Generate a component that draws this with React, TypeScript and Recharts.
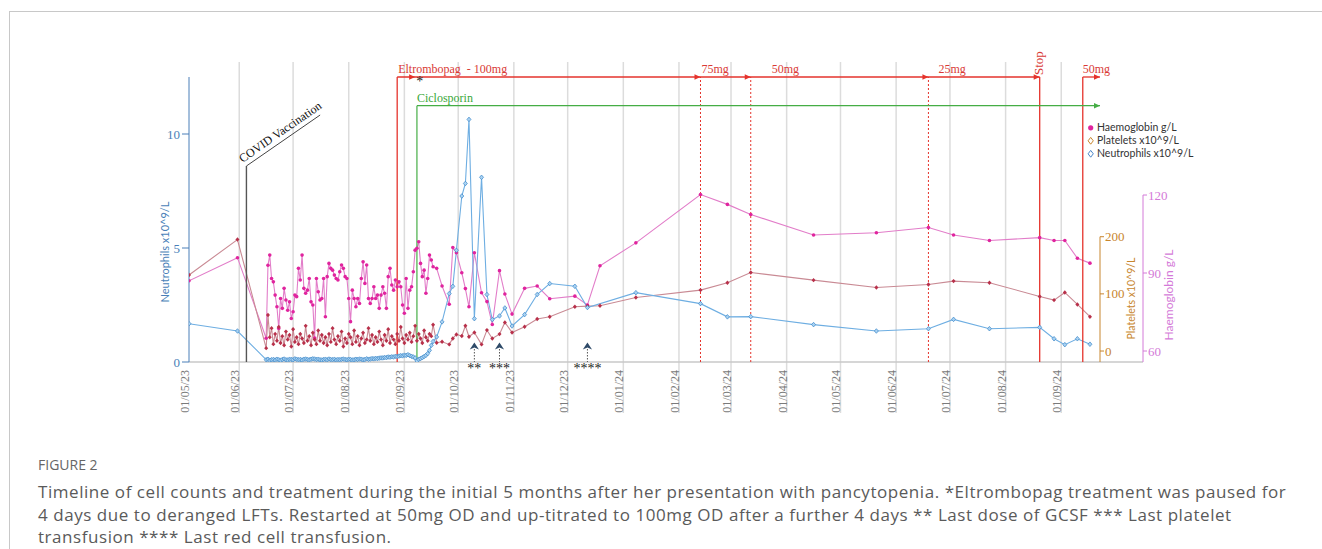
import React from 'react';
import { ComposedChart, Line, XAxis, YAxis, ReferenceLine, ReferenceDot } from 'recharts';

// x values are days counted from 01/05/2023
const tickLabels = ['01/05/23','01/06/23','01/07/23','01/08/23','01/09/23','01/10/23','01/11/23','01/12/23','01/01/24','01/02/24','01/03/24','01/04/24','01/05/24','01/06/24','01/07/24','01/08/24','01/09/24'];
const tickDays = [0, 31, 61, 92, 123, 153, 184, 214, 245, 276, 305, 336, 366, 397, 427, 458, 489];

const earlyDays = [3, 30];
const earlyHb = [87, 95.9];
const earlyPlt = [133, 195];
const earlyNeut = [1.68, 1.36];

// daily samples from day 46 to day 139
const denseStartDay = 46;
const denseHb = [64.9, 93, 96.9, 87.9, 86.6, 81.5, 77, 68.7, 80.2, 76.4,
  84.1, 79.6, 75.7, 78.9, 72.5, 75.1, 81.5, 80.9, 91.8, 87.3,
  96.9, 84.1, 82.2, 83.4, 87.9, 78.9, 77.7, 65, 87.9, 82.8,
  79.6, 80.2, 87.9, 73.2, 88.6, 93.7, 91.8, 91.1, 89.2, 87.9,
  87.3, 90.5, 93.1, 91.8, 88.6, 87.9, 80.2, 71.3, 83.4, 80.2,
  77, 80.2, 78.3, 87.9, 94.3, 86, 93.1, 80.2, 78.3, 80.2,
  84.7, 80.2, 81.5, 76.4, 81.5, 84.7, 82.2, 76.4, 88.6, 91.8,
  85.4, 83.4, 87.3, 84.7, 86.6, 84.7, 77.7, 74.5, 87.9, 76.4,
  83.4, 84.7, 90.5, 98.8, 99.5, 102, 93.7, 88.6, 91.1, 82.2,
  87.9, 96.9, 95, 92.4];
const densePlt = [5, 63, 24, 40, 12, 30, 18, 42, 14, 26,
  10, 34, 20, 28, 8, 38, 16, 24, 12, 30,
  22, 14, 44, 18, 26, 10, 32, 20, 12, 36,
  18, 28, 14, 24, 10, 30, 16, 40, 20, 12,
  26, 18, 34, 8, 22, 14, 30, 24, 12, 36,
  16, 26, 10, 22, 32, 14, 20, 40, 18, 28,
  12, 24, 16, 34, 20, 10, 28, 18, 38, 14,
  26, 20, 12, 30, 18, 42, 22, 14, 28, 20,
  32, 16, 26, 44, 18, 30, 22, 14, 36, 24,
  18, 30, 26, 46];
const denseNeut = [0.10, 0.12, 0.08, 0.10, 0.11, 0.09, 0.12, 0.10, 0.08, 0.11,
  0.13, 0.10, 0.09, 0.12, 0.11, 0.10, 0.14, 0.12, 0.10, 0.11,
  0.09, 0.12, 0.13, 0.11, 0.10, 0.12, 0.14, 0.13, 0.11, 0.12,
  0.10, 0.09, 0.11, 0.12, 0.10, 0.13, 0.11, 0.10, 0.12, 0.09,
  0.11, 0.10, 0.12, 0.13, 0.11, 0.10, 0.12, 0.11, 0.09, 0.10,
  0.12, 0.11, 0.13, 0.12, 0.10, 0.11, 0.14, 0.12, 0.13, 0.15,
  0.14, 0.16, 0.15, 0.17, 0.18,
  0.18, 0.20, 0.19, 0.22, 0.21, 0.23, 0.22, 0.25, 0.24, 0.26, 0.28, 0.27, 0.30, 0.29, 0.32, 0.28, 0.25,
  0.22, 0.18, 0.05, 0.12, 0.15, 0.19, 0.24, 0.29, 0.37, 0.51, 0.73, 0.9];

const laterDays = [141, 144, 148, 150, 152, 155, 157, 159, 162, 166, 169, 172, 176, 179, 183, 190, 197, 204, 218, 225, 232, 252, 288, 303, 316, 351, 386, 415, 429, 449, 477, 485, 491, 498, 505];
const laterHb = [91.8, 85, 78, 99.8, 97.8, 90.1, 84, 77, 97.8, 82.4, 79, 70.2, 90.9, 81.9, 74.2, 84.1, 85, 80.1, 81.1, 77.7, 92.8, 101.6, 120.2, 116.4, 112.5, 104.6, 105.5, 107.5, 104.6, 102.5, 103.6, 102.5, 102.5, 95.7, 93.8];
const laterPlt = [14.5, 16.2, 11.6, 22, 29, 26.2, 44.2, 25, 32.5, 11.6, 36.6, 22, 29.6, 50, 32.5, 42.5, 55.9, 60, 77.4, 78.6, 79.2, 93.7, 106.6, 119.4, 137.4, 124, 111.2, 116.5, 122.3, 119.4, 95.5, 89.1, 102.5, 81.5, 60];
const laterNeut = [1.1, 1.76, 3.0, 3.32, 4.9, 7.28, 7.83, 10.64, 1.9, 8.1, 2.96, 1.86, 2.02, 2.37, 1.58, 2.08, 2.96, 3.44, 3.32, 2.39, null, 3.04, 2.56, 1.98, 1.99, 1.64, 1.36, 1.46, 1.87, 1.46, 1.52, 1.02, 0.76, 1.02, 0.78];

// treatment events (days)
const covidDay = 35;
const eltStartDay = 119;
const eltRestartDay = 129;
const ciclosporinDay = 130;
const doseChangeDays = [288, 316, 415];
const doseChangeLabels = ['75mg', '50mg', '25mg'];
const eltStopDay = 477;
const eltResumeDay = 501;
const eltResumeLabel = '50mg';
const markerDays = [162, 176, 225];
const markerLabels = ['**', '***', '****'];

const caption = [
  'Timeline of cell counts and treatment during the initial 5 months after her presentation with pancytopenia. *Eltrombopag treatment was paused for',
  '4 days due to deranged LFTs. Restarted at 50mg OD and up-titrated to 100mg OD after a further 4 days ** Last dose of GCSF *** Last platelet',
  'transfusion **** Last red cell transfusion.',
];

// layout
const X_MIN = 3;
const X_MAX = 510.6;
const PLOT_W = 911;
const DAY_PER_PX = (X_MAX - X_MIN) / PLOT_W;
const HB_AXIS_DAY = X_MAX + 43 * DAY_PER_PX;
const N_DOMAIN: [number, number] = [0, 12.5];
const P_DOMAIN: [number, number] = [-19.2, 479.4];
const H_DOMAIN: [number, number] = [55.77, 165.4];
const N_PX = 285 / 12.5;
const yN = (px: number) => px / N_PX; // pixel height above baseline -> neutrophil units

const N_ID = 'axisN';
const P_ID = 'axisA_plt';
const H_ID = 'axisB_hb';

const RED = '#e5332c';
const GREEN = '#45ad45';
const BLUE_AX = '#4a7fb8';
const ORANGE = '#c8862e';
const PINK_AX = '#d47ad8';
const SERIF = '"Liberation Serif", "DejaVu Serif", serif';
const SANS = 'Lato, "Open Sans", sans-serif';

const rows: any[] = [];
earlyDays.forEach((d, i) => rows.push({ day: d, hb: earlyHb[i], plt: earlyPlt[i], neut: earlyNeut[i] }));
denseHb.forEach((v, i) => rows.push({ day: denseStartDay + i, hb: v, plt: densePlt[i], neut: denseNeut[i] }));
laterDays.forEach((d, i) => rows.push({ day: d, hb: laterHb[i], plt: laterPlt[i], neut: laterNeut[i] }));

const ticks = tickDays.map((d) => Math.max(d, X_MIN));
const labelFor = (v: number) => tickLabels[ticks.indexOf(v)] || '';

const DateTick = (props: any) => {
  const { x, y, payload } = props;
  return (
    <text x={x} y={y} transform={`rotate(-90 ${x} ${y})`} textAnchor="end" fill="#7a7a7a" fontSize={12} fontFamily={SERIF}>
      {labelFor(payload.value)}
    </text>
  );
};

const HbDot = (p: any) =>
  p.cy == null ? null : <circle key={`h${p.index}`} cx={p.cx} cy={p.cy} r={1.8} fill="#e0249e" />;
const PltDot = (p: any) =>
  p.cy == null ? null : (
    <polygon key={`p${p.index}`} points={`${p.cx},${p.cy - 2.2} ${p.cx + 2},${p.cy} ${p.cx},${p.cy + 2.2} ${p.cx - 2},${p.cy}`} fill="#b8304a" />
  );
const NeutDot = (p: any) =>
  p.cy == null ? null : (
    <polygon key={`n${p.index}`} points={`${p.cx},${p.cy - 2.3} ${p.cx + 2},${p.cy} ${p.cx},${p.cy + 2.3} ${p.cx - 2},${p.cy}`} fill="#a9d2f2" stroke="#3b86c9" strokeWidth={0.7} />
  );

const AxisTitle = (props: any) => {
  const { viewBox, text, color, size, dx, dyFromBottom } = props;
  if (!viewBox) return null;
  const cx = viewBox.x + dx;
  const cy = viewBox.y + viewBox.height - dyFromBottom;
  return (
    <text x={cx} y={cy} transform={`rotate(-90 ${cx} ${cy})`} textAnchor="middle" dominantBaseline="central" fill={color} fontSize={size} fontFamily={SANS}>
      {text}
    </text>
  );
};

const arrowShape = (color: string) => (p: any) => (
  <polygon points={`${p.cx - 6},${p.cy - 2.8} ${p.cx},${p.cy} ${p.cx - 6},${p.cy + 2.8}`} fill={color} />
);

const textShape = (txt: string, o: any) => (p: any) => {
  const x = p.cx + (o.dx || 0);
  const y = p.cy + (o.dy || 0);
  return (
    <text x={x} y={y} transform={o.rot ? `rotate(${o.rot} ${x} ${y})` : undefined} fill={o.color || '#000'} fontSize={o.size || 12}
      fontFamily={o.font || SERIF} textAnchor={o.anchor || 'start'} style={{ whiteSpace: 'pre' }}>
      {txt}
    </text>
  );
};

const markerShape = (txt: string) => (p: any) => {
  const { cx, cy } = p;
  return (
    <g>
      <line x1={cx} y1={cy - 13} x2={cx} y2={cy} stroke="#555" strokeWidth={1} strokeDasharray="1.5 1.5" />
      <polygon points={`${cx},${cy - 19.5} ${cx + 4.6},${cy - 12.6} ${cx},${cy - 14.4} ${cx - 4.6},${cy - 12.6}`} fill="#2e4a68" />
      <text x={cx} y={cy + 10.5} textAnchor="middle" fontSize={14} fontFamily={SERIF} fill="#222">{txt}</text>
    </g>
  );
};

const LINE_TOP = 12.5;
const CICLO_Y = yN(362 - 105.7);
const COVID_TOP = yN(362 - 166);
const COVID_END_DAY = covidDay + 73.7 * DAY_PER_PX;
const COVID_END_Y = yN(362 - 115);
const GRID_TOP = yN(362 - 62);
const GRID_BOTTOM = -yN(413 - 362);

export default function App() {
  return (
    <div style={{ position: 'absolute', left: 0, top: 0, width: 1322, height: 549, background: '#fff', overflow: 'hidden' }}>
      <div style={{ position: 'absolute', left: 9, top: 11, width: 1400, height: 600, borderLeft: '1px solid #c8c8c8', borderTop: '1px solid #c8c8c8' }} />
      <div style={{ position: 'absolute', left: 0, top: 0 }}>
        <ComposedChart width={1322} height={420} data={rows} margin={{ top: 77, right: 119, bottom: 0, left: 0 }}>
          <XAxis xAxisId={0} dataKey="day" type="number" domain={[X_MIN, X_MAX]} allowDataOverflow ticks={ticks} interval={0}
            tick={<DateTick />} axisLine={false} tickLine={false} height={58} />
          <YAxis yAxisId={N_ID} domain={N_DOMAIN} allowDataOverflow ticks={[0, 5, 10]} width={189} stroke={BLUE_AX}
            tick={{ fill: BLUE_AX, fontSize: 13, fontFamily: SERIF }} tickSize={7} tickMargin={2}
            label={<AxisTitle text="Neutrophils x10^9/L" color={BLUE_AX} size={11} dx={164} dyFromBottom={110} />} />
          <YAxis yAxisId={P_ID} orientation="right" domain={P_DOMAIN} allowDataOverflow ticks={[0, 100, 200]} width={43}
            axisLine={false} tickLine={{ stroke: ORANGE }} tickSize={4} tickMargin={1}
            tick={{ fill: ORANGE, fontSize: 13, fontFamily: SERIF }}
            label={<AxisTitle text="Platelets x10^9/L" color={ORANGE} size={10.5} dx={30.7} dyFromBottom={63.5} />} />
          <YAxis yAxisId={H_ID} orientation="right" domain={H_DOMAIN} allowDataOverflow ticks={[60, 90, 120]} width={60}
            axisLine={false} tickLine={{ stroke: PINK_AX }} tickSize={4} tickMargin={1}
            tick={{ fill: PINK_AX, fontSize: 13, fontFamily: SERIF }}
            label={<AxisTitle text="Haemoglobin g/L" color={PINK_AX} size={12} dx={25} dyFromBottom={67} />} />

          {tickDays.slice(1).map((d) => (
            <ReferenceLine key={`g${d}`} yAxisId={N_ID} ifOverflow="visible" stroke="#dcdcdc" strokeWidth={1.5}
              segment={[{ x: d, y: GRID_BOTTOM }, { x: d, y: GRID_TOP }]} />
          ))}
          <ReferenceLine yAxisId={N_ID} ifOverflow="visible" stroke="#c9c9c9" strokeWidth={1.5}
            segment={[{ x: X_MIN, y: 0 }, { x: HB_AXIS_DAY, y: 0 }]} />
          <ReferenceLine yAxisId={P_ID} ifOverflow="visible" stroke={ORANGE} strokeWidth={1}
            segment={[{ x: X_MAX, y: P_DOMAIN[0] }, { x: X_MAX, y: 200 }]} />
          <ReferenceLine yAxisId={H_ID} ifOverflow="visible" stroke={PINK_AX} strokeWidth={1}
            segment={[{ x: HB_AXIS_DAY, y: H_DOMAIN[0] }, { x: HB_AXIS_DAY, y: 120 }]} />

          <Line yAxisId={H_ID} dataKey="hb" stroke="#e27dc9" strokeWidth={1.1} dot={HbDot} activeDot={false} isAnimationActive={false} connectNulls />
          <Line yAxisId={P_ID} dataKey="plt" stroke="#c98a94" strokeWidth={1.1} dot={PltDot} activeDot={false} isAnimationActive={false} connectNulls />
          <Line yAxisId={N_ID} dataKey="neut" stroke="#6eaee2" strokeWidth={1.1} dot={NeutDot} activeDot={false} isAnimationActive={false} connectNulls />

          {/* COVID vaccination */}
          <ReferenceLine yAxisId={N_ID} ifOverflow="visible" stroke="#555" strokeWidth={1.4}
            segment={[{ x: covidDay, y: 0 }, { x: covidDay, y: COVID_TOP }]} />
          <ReferenceLine yAxisId={N_ID} ifOverflow="visible" stroke="#444" strokeWidth={1}
            segment={[{ x: covidDay, y: COVID_TOP }, { x: COVID_END_DAY, y: COVID_END_Y }]} />
          <ReferenceDot yAxisId={N_ID} x={covidDay} y={COVID_TOP} ifOverflow="visible"
            shape={textShape('COVID Vaccination', { dx: -4, dy: -3, rot: -34.7, size: 12, color: '#111' })} />

          {/* Eltrombopag */}
          <ReferenceLine yAxisId={N_ID} ifOverflow="visible" stroke={RED} strokeWidth={1.3}
            segment={[{ x: eltStartDay, y: 0 }, { x: eltStartDay, y: LINE_TOP }]} />
          <ReferenceLine yAxisId={N_ID} ifOverflow="visible" stroke={RED} strokeWidth={1.3}
            segment={[{ x: eltStartDay, y: LINE_TOP }, { x: eltStopDay, y: LINE_TOP }]} />
          <ReferenceDot yAxisId={N_ID} x={eltStartDay} y={LINE_TOP} ifOverflow="visible"
            shape={textShape('Eltrombopag  - 100mg', { dx: 1, dy: -4.5, color: '#d93a36' })} />
          <ReferenceDot yAxisId={N_ID} x={eltRestartDay} y={LINE_TOP} ifOverflow="visible" shape={arrowShape(RED)} />
          <ReferenceDot yAxisId={N_ID} x={eltRestartDay} y={LINE_TOP} ifOverflow="visible"
            shape={textShape('*', { dx: 1, dy: 8.5, size: 14, color: '#222' })} />
          {doseChangeDays.map((d) => (
            <ReferenceLine key={`dc${d}`} yAxisId={N_ID} ifOverflow="visible" stroke={RED} strokeWidth={1} strokeDasharray="2 2"
              segment={[{ x: d, y: 0 }, { x: d, y: LINE_TOP }]} />
          ))}
          {doseChangeDays.map((d) => (
            <ReferenceDot key={`da${d}`} yAxisId={N_ID} x={d} y={LINE_TOP} ifOverflow="visible" shape={arrowShape(RED)} />
          ))}
          {doseChangeDays.map((d, i) => (
            <ReferenceDot key={`dl${d}`} yAxisId={N_ID} x={d} y={LINE_TOP} ifOverflow="visible"
              shape={textShape(doseChangeLabels[i], { dx: [1, 21, 10][i], dy: -4.5, color: '#d93a36' })} />
          ))}
          <ReferenceLine yAxisId={N_ID} ifOverflow="visible" stroke={RED} strokeWidth={1.3}
            segment={[{ x: eltStopDay, y: 0 }, { x: eltStopDay, y: LINE_TOP }]} />
          <ReferenceDot yAxisId={N_ID} x={eltStopDay} y={LINE_TOP} ifOverflow="visible" shape={arrowShape(RED)} />
          <ReferenceDot yAxisId={N_ID} x={eltStopDay} y={LINE_TOP} ifOverflow="visible"
            shape={textShape('Stop', { dx: 3, dy: -2, rot: -90, size: 13, color: '#d93a36' })} />
          <ReferenceLine yAxisId={N_ID} ifOverflow="visible" stroke={RED} strokeWidth={1.3}
            segment={[{ x: eltResumeDay, y: 0 }, { x: eltResumeDay, y: LINE_TOP }]} />
          <ReferenceLine yAxisId={N_ID} ifOverflow="visible" stroke={RED} strokeWidth={1.3}
            segment={[{ x: eltResumeDay, y: LINE_TOP }, { x: X_MAX, y: LINE_TOP }]} />
          <ReferenceDot yAxisId={N_ID} x={X_MAX} y={LINE_TOP} ifOverflow="visible" shape={arrowShape(RED)} />
          <ReferenceDot yAxisId={N_ID} x={eltResumeDay} y={LINE_TOP} ifOverflow="visible"
            shape={textShape(eltResumeLabel, { dx: 0, dy: -4.5, color: '#d93a36' })} />

          {/* Ciclosporin */}
          <ReferenceLine yAxisId={N_ID} ifOverflow="visible" stroke={GREEN} strokeWidth={1.2}
            segment={[{ x: ciclosporinDay, y: 0 }, { x: ciclosporinDay, y: CICLO_Y }]} />
          <ReferenceLine yAxisId={N_ID} ifOverflow="visible" stroke={GREEN} strokeWidth={1.2}
            segment={[{ x: ciclosporinDay, y: CICLO_Y }, { x: X_MAX, y: CICLO_Y }]} />
          <ReferenceDot yAxisId={N_ID} x={X_MAX} y={CICLO_Y} ifOverflow="visible" shape={arrowShape(GREEN)} />
          <ReferenceDot yAxisId={N_ID} x={ciclosporinDay} y={CICLO_Y} ifOverflow="visible"
            shape={textShape('Ciclosporin', { dx: 0, dy: -4, color: '#3aa83a' })} />

          {markerDays.map((d, i) => (
            <ReferenceDot key={`m${d}`} yAxisId={N_ID} x={d} y={0} ifOverflow="visible" shape={markerShape(markerLabels[i])} />
          ))}
        </ComposedChart>
      </div>

      {/* legend */}
      <div style={{ position: 'absolute', left: 1086, top: 121, fontFamily: SANS, fontSize: 10.5, color: '#333', lineHeight: '13px' }}>
        {[
          { name: 'Haemoglobin g/L', kind: 'dot', color: '#e0249e' },
          { name: 'Platelets x10^9/L', kind: 'dia', color: ORANGE },
          { name: 'Neutrophils x10^9/L', kind: 'dia', color: '#4a86c8' },
        ].map((it, i) => (
          <div key={it.name} style={{ position: 'absolute', left: 0, top: [0, 13.4, 26.2][i], whiteSpace: 'nowrap', display: 'flex', alignItems: 'center' }}>
            <svg width={10} height={13} style={{ display: 'block' }}>
              {it.kind === 'dot' ? (
                <circle cx={4.7} cy={6.8} r={2.6} fill={it.color} />
              ) : (
                <polygon points="4.7,3.4 7.3,6.8 4.7,10.2 2.1,6.8" fill="none" stroke={it.color} strokeWidth={1} />
              )}
            </svg>
            <span style={{ marginLeft: 1 }}>{it.name}</span>
          </div>
        ))}
      </div>

      {/* caption */}
      <div style={{ position: 'absolute', left: 38, top: 455, fontFamily: '"Open Sans", sans-serif', fontSize: 14, color: '#666', lineHeight: '20px' }}>FIGURE 2</div>
      <div style={{ position: 'absolute', left: 38, top: 481, fontFamily: '"Open Sans", sans-serif', fontSize: 17, letterSpacing: 0.55, color: '#5a5a5a', lineHeight: '22.5px', whiteSpace: 'nowrap' }}>
        {caption.map((c) => (
          <div key={c}>{c}</div>
        ))}
      </div>
    </div>
  );
}
